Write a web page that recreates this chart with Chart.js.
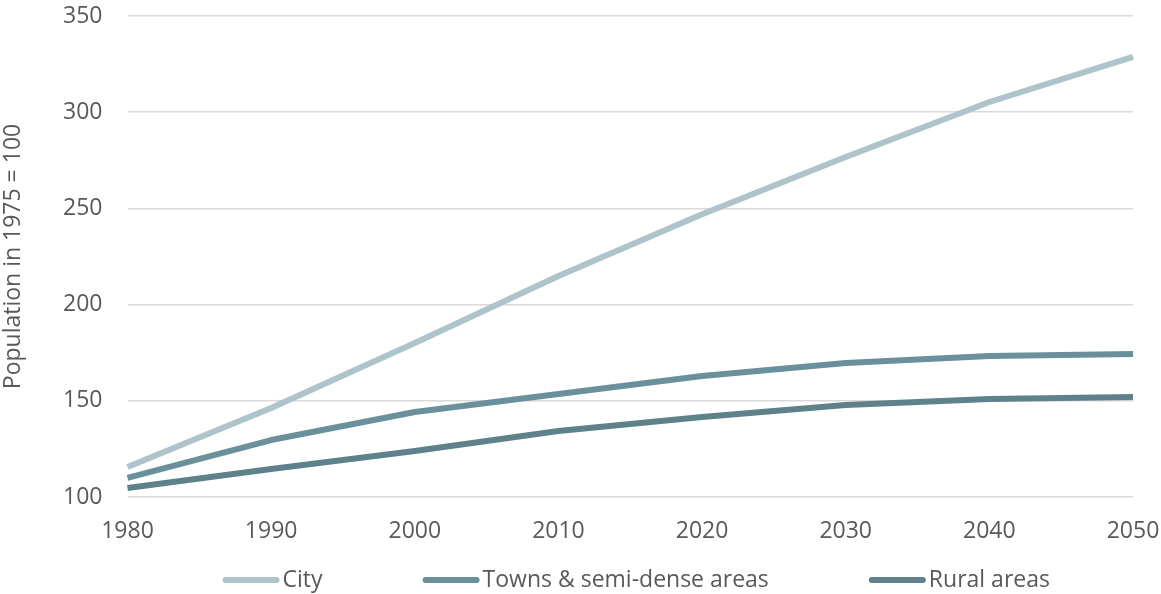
<!DOCTYPE html>
<html>
<head>
<meta charset="utf-8">
<script src="https://cdn.jsdelivr.net/npm/chart.js@4.4.1/dist/chart.umd.min.js"></script>
<style>
  html, body { margin: 0; padding: 0; background: #ffffff; }
  #wrap { width: 1161px; height: 594px; position: relative; }
</style>
</head>
<body>
<div id="wrap"><canvas id="chart" width="1161" height="594"></canvas></div>
<script>
// Population index by degree of urbanisation (1975 = 100)
const years = ['1980', '1990', '2000', '2010', '2020', '2030', '2040', '2050'];
const city = [115.6, 146.3, 180.0, 214.9, 247.0, 276.7, 305.3, 328.7];
const towns = [109.9, 129.6, 144.2, 153.5, 162.9, 169.6, 173.3, 174.3];
const rural = [104.7, 114.6, 123.9, 134.3, 141.6, 147.8, 150.9, 152.0];
const seriesNames = ['City', 'Towns & semi-dense areas', 'Rural areas'];
const seriesColors = ['#adc4cb', '#6a909b', '#5e818c'];
const yTicks = [100, 150, 200, 250, 300, 350];
const yTitle = 'Population in 1975 = 100';

const FONT = '"Open Sans", "DejaVu Sans", sans-serif';
const FONT_SIZE = 23;
const TEXT_COLOR = '#595959';

// Legend drawn under the x axis with wide spacing between entries
const bottomLegend = {
  id: 'bottomLegend',
  afterDraw(chart) {
    const ctx = chart.ctx;
    const area = chart.chartArea;
    const markW = 57, markH = 6, markGap = 3, itemGap = 100;
    const y = 580;
    const items = chart.data.datasets;
    ctx.save();
    ctx.font = FONT_SIZE + 'px ' + FONT;
    const widths = items.map(ds => ctx.measureText(ds.label).width);
    let total = 0;
    widths.forEach((w, i) => { total += markW + markGap + w + (i ? itemGap : 0); });
    let x = (area.left + area.right) / 2 + 6 - total / 2;
    items.forEach((ds, i) => {
      ctx.fillStyle = ds.borderColor;
      ctx.beginPath();
      ctx.roundRect(x, y - markH / 2, markW, markH, 3);
      ctx.fill();
      x += markW + markGap;
      ctx.fillStyle = TEXT_COLOR;
      ctx.textBaseline = 'middle';
      ctx.textAlign = 'left';
      ctx.fillText(ds.label, x, y);
      x += widths[i] + itemGap;
    });
    ctx.restore();
  }
};

const values = [city, towns, rural];
const datasets = values.map((v, i) => ({
  label: seriesNames[i],
  data: v,
  borderColor: seriesColors[i],
  backgroundColor: seriesColors[i],
  borderWidth: 6,
  borderJoinStyle: 'round',
  pointRadius: 0,
  pointHoverRadius: 0,
  tension: 0,
  fill: false
}));

new Chart(document.getElementById('chart'), {
  type: 'line',
  data: { labels: years, datasets },
  options: {
    responsive: false,
    animation: false,
    layout: { padding: { top: 16, right: 28, bottom: 0, left: 0 } },
    plugins: { legend: { display: false }, tooltip: { enabled: false } },
    scales: {
      x: {
        type: 'category',
        offset: false,
        grid: { display: false, drawTicks: false },
        border: { display: false },
        ticks: { color: TEXT_COLOR, font: { family: FONT, size: FONT_SIZE }, padding: 21, maxRotation: 0, autoSkip: false },
        afterFit(scale) {
          scale.height = 97;
          scale.paddingLeft = 0;
          scale.paddingRight = 0;
        }
      },
      y: {
        min: 100,
        max: 350,
        afterBuildTicks(scale) { scale.ticks = yTicks.map(v => ({ value: v })); },
        grid: { color: '#d9d9d9', lineWidth: 1.5, drawTicks: false },
        border: { display: false },
        ticks: { color: TEXT_COLOR, font: { family: FONT, size: FONT_SIZE }, padding: 25 },
        title: { display: true, text: yTitle, color: TEXT_COLOR, font: { family: FONT, size: FONT_SIZE }, padding: 0 },
        afterFit(scale) {
          scale.width = 127.5;
          scale.paddingTop = 0;
          scale.paddingBottom = 0;
        }
      }
    }
  },
  plugins: [bottomLegend]
});
</script>
</body>
</html>
